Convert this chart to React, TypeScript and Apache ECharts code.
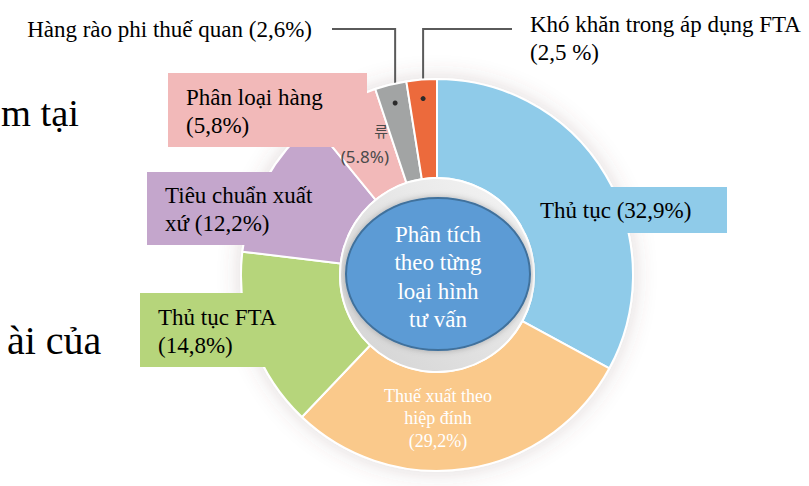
import React, { useEffect, useRef } from 'react';
import * as echarts from 'echarts';

// ---- data ----
const categories = [
  'Thủ tục',
  'Thuế xuất theo hiệp đính',
  'Thủ tục FTA',
  'Tiêu chuẩn xuất xứ',
  'Phân loại hàng',
  'Hàng rào phi thuế quan',
  'Khó khăn trong áp dụng FTA',
];
const values = [32.9, 29.2, 14.8, 12.2, 5.8, 2.6, 2.5];
const labelTexts = [
  'Thủ tục (32,9%)',
  'Thuế xuất theo\nhiệp đính\n(29,2%)',
  'Thủ tục FTA\n(14,8%)',
  'Tiêu chuẩn xuất\nxứ (12,2%)',
  'Phân loại hàng\n(5,8%)',
  'Hàng rào phi thuế quan (2,6%)',
  'Khó khăn trong áp dụng FTA\n(2,5 %)',
];
const centerTitle = 'Phân tích\ntheo từng\nloại hình\ntư vấn';
const slideTextTop = 'm tại';
const slideTextBottom = 'ài của';
const remnantTop = '류';
const remnantValue = '(5.8%)';

// ---- styles / layout ----
const sliceColors = ['#8fcbe9', '#fac98b', '#b6d57b', '#c4a6cc', '#f2b9b9', '#a2a4a4', '#ec6a3c'];
const CX = 437;
const CY = 275;
const R0 = 97;
const R1 = 196;
const SERIF = 'Liberation Serif';

type LabelLayout = {
  x: number;
  y: number;
  align: 'left' | 'right' | 'center';
  vAlign: 'top' | 'middle' | 'bottom';
  box?: string;
  padding?: number[];
  width?: number;
  color: string;
  fontSize: number;
  lineHeight: number;
  lineTurnY?: number;
  lineEndX?: number;
};

const layouts: LabelLayout[] = [
  { x: 522, y: 187, align: 'left', vAlign: 'top', box: sliceColors[0], padding: [9, 10, 9, 18], width: 177, color: '#000', fontSize: 23, lineHeight: 28 },
  { x: 438, y: 418, align: 'center', vAlign: 'middle', color: '#ffffff', fontSize: 18, lineHeight: 22.5 },
  { x: 140, y: 293, align: 'left', vAlign: 'top', box: sliceColors[2], padding: [10, 10, 8, 18], width: 162, color: '#000', fontSize: 23, lineHeight: 28 },
  { x: 147, y: 172, align: 'left', vAlign: 'top', box: sliceColors[3], padding: [9, 10, 8, 18], width: 172, color: '#000', fontSize: 23, lineHeight: 28 },
  { x: 168, y: 73, align: 'left', vAlign: 'top', box: sliceColors[4], padding: [10, 10, 8, 18], width: 171, color: '#000', fontSize: 23, lineHeight: 28 },
  { x: 312, y: 29, align: 'right', vAlign: 'middle', color: '#000', fontSize: 23, lineHeight: 28, lineTurnY: 29, lineEndX: 332 },
  { x: 530, y: 10, align: 'left', vAlign: 'top', color: '#000', fontSize: 23, lineHeight: 28, lineTurnY: 29, lineEndX: 512 },
];

const total = values.reduce((a, b) => a + b, 0);
function midPoint(i: number, r: number): [number, number] {
  let before = 0;
  for (let k = 0; k < i; k++) before += values[k];
  const frac = (before + values[i] / 2) / total;
  const t = frac * Math.PI * 2;
  return [CX + r * Math.sin(t), CY - r * Math.cos(t)];
}

export default function App() {
  const ref = useRef<HTMLDivElement>(null);
  useEffect(() => {
    const chart = echarts.init(ref.current!, null, { renderer: 'svg' });

    const data = categories.map((name, i) => {
      const L = layouts[i];
      const hasLine = L.lineTurnY !== undefined;
      return {
        name,
        value: values[i],
        itemStyle: { color: sliceColors[i] },
        label: {
          show: true,
          formatter: labelTexts[i],
          color: L.color,
          fontFamily: SERIF,
          fontSize: L.fontSize,
          lineHeight: L.lineHeight,
          align: L.align,
          overflow: 'none',
          ...(L.box
            ? { backgroundColor: L.box, padding: L.padding, width: L.width }
            : {}),
        },
        labelLine: hasLine
          ? { show: true, smooth: false, lineStyle: { color: '#5a5a5a', width: 2 } }
          : { show: false },
      };
    });

    const dotElements = layouts
      .map((L, i) => ({ L, i }))
      .filter(({ L }) => L.lineTurnY !== undefined)
      .map(({ i }) => {
        const [x, y] = midPoint(i, 177);
        return {
          type: 'circle',
          z: 20,
          silent: true,
          shape: { cx: x, cy: y, r: 2.5 },
          style: { fill: '#2a2a2a' },
        };
      });

    const option: any = {
      animation: false,
      backgroundColor: '#ffffff',
      graphic: {
        elements: [
          {
            type: 'circle',
            z: 1,
            silent: true,
            shape: { cx: CX, cy: CY, r: R1 + 1 },
            style: {
              fill: '#fdf8f7',
              shadowBlur: 22,
              shadowColor: 'rgba(110,70,70,0.22)',
            },
          },
          {
            type: 'circle',
            z: 5,
            silent: true,
            shape: { cx: CX, cy: CY, r: R0 },
            style: {
              fill: new echarts.graphic.LinearGradient(1, 0, 0, 1, [
                { offset: 0, color: '#f6f6f6' },
                { offset: 1, color: '#d2d2d2' },
              ]),
              stroke: '#ffffff',
              lineWidth: 2,
            },
          },
          {
            type: 'ellipse',
            z: 6,
            silent: true,
            shape: { cx: 438, cy: 274, rx: 92, ry: 76 },
            style: {
              fill: '#5b9bd5',
              stroke: '#41719c',
              lineWidth: 2,
              shadowBlur: 6,
              shadowColor: 'rgba(0,0,0,0.25)',
            },
          },
          {
            type: 'text',
            z: 7,
            silent: true,
            x: 438,
            y: 277,
            style: {
              text: centerTitle,
              fill: '#ffffff',
              font: `23px ${SERIF}`,
              lineHeight: 28.5,
              align: 'center',
              verticalAlign: 'middle',
            },
          },
          {
            type: 'text',
            z: 3,
            silent: true,
            x: 388,
            y: 130,
            style: {
              text: remnantTop,
              fill: '#4a4a4a',
              font: '15px "Noto Sans CJK KR", sans-serif',
              align: 'right',
              verticalAlign: 'middle',
            },
          },
          {
            type: 'text',
            z: 3,
            silent: true,
            x: 389,
            y: 156,
            style: {
              text: remnantValue,
              fill: '#4a4a4a',
              font: '17px "Noto Sans", sans-serif',
              align: 'right',
              verticalAlign: 'middle',
            },
          },
          {
            type: 'text',
            z: 3,
            silent: true,
            x: 1,
            y: 113,
            style: {
              text: slideTextTop,
              fill: '#000000',
              font: `38.5px ${SERIF}`,
              align: 'left',
              verticalAlign: 'middle',
            },
          },
          {
            type: 'text',
            z: 3,
            silent: true,
            x: 7,
            y: 340,
            style: {
              text: slideTextBottom,
              fill: '#000000',
              font: `40px ${SERIF}`,
              align: 'left',
              verticalAlign: 'middle',
            },
          },
          ...dotElements,
        ],
      },
      series: [
        {
          type: 'pie',
          z: 2,
          center: [CX, CY],
          radius: [R0, R1],
          startAngle: 90,
          clockwise: true,
          avoidLabelOverlap: false,
          silent: true,
          itemStyle: { borderColor: '#ffffff', borderWidth: 2 },
          label: { show: true, position: 'outside' },
          labelLine: { show: false },
          labelLayout: (p: any) => {
            const L = layouts[p.dataIndex];
            const out: any = {
              x: L.x,
              y: L.y,
              align: L.align,
              verticalAlign: L.vAlign,
            };
            if (L.lineTurnY !== undefined) {
              const [dx, dy] = midPoint(p.dataIndex, 177);
              out.labelLinePoints = [
                [dx, dy],
                [dx, L.lineTurnY],
                [L.lineEndX, L.lineTurnY],
              ];
            }
            return out;
          },
          data,
        },
      ],
    };

    chart.setOption(option);
    return () => chart.dispose();
  }, []);

  return (
    <div
      ref={ref}
      style={{ position: 'fixed', left: 0, top: 0, width: 809, height: 486 }}
    />
  );
}
